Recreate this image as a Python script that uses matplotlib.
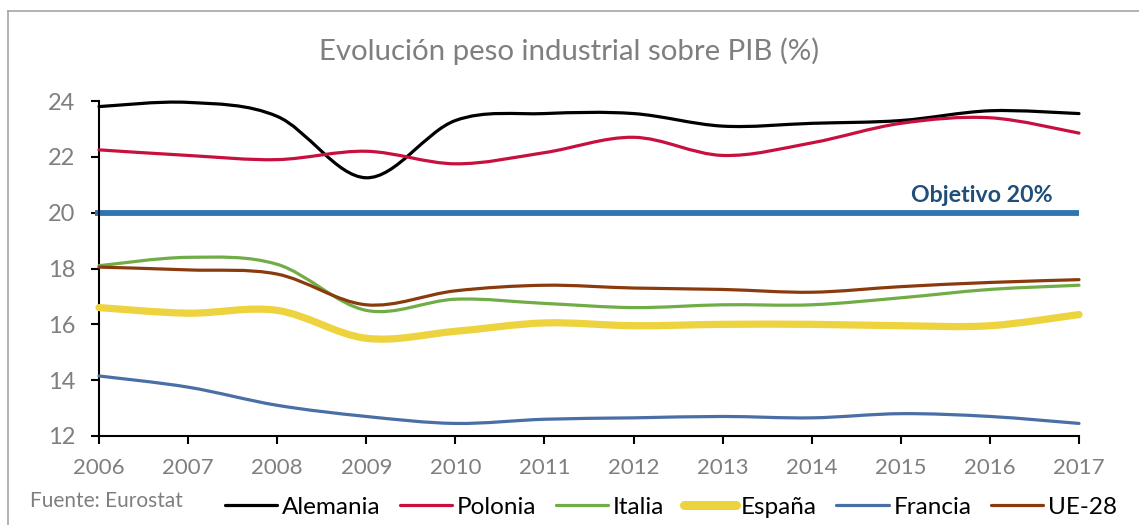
import matplotlib
matplotlib.use("Agg")
import matplotlib.pyplot as plt
from matplotlib.path import Path
from matplotlib.patches import PathPatch
from matplotlib.lines import Line2D
import numpy as np

years = [2006, 2007, 2008, 2009, 2010, 2011, 2012, 2013, 2014, 2015, 2016, 2017]
alemania = [23.8, 23.95, 23.45, 21.25, 23.3, 23.55, 23.55, 23.1, 23.2, 23.3, 23.65, 23.55]
polonia = [22.25, 22.05, 21.9, 22.2, 21.75, 22.15, 22.7, 22.05, 22.5, 23.2, 23.4, 22.85]
italia = [18.1, 18.4, 18.15, 16.5, 16.9, 16.75, 16.6, 16.7, 16.7, 16.95, 17.25, 17.4]
espana = [16.6, 16.4, 16.5, 15.5, 15.75, 16.05, 15.95, 16.0, 16.0, 15.95, 15.95, 16.35]
francia = [14.15, 13.75, 13.1, 12.7, 12.45, 12.6, 12.65, 12.7, 12.65, 12.8, 12.7, 12.45]
ue28 = [18.05, 17.95, 17.8, 16.7, 17.2, 17.4, 17.3, 17.25, 17.15, 17.35, 17.5, 17.6]
objetivo = 20

series = [
    ("Alemania", alemania, "#000000", 2.3),
    ("Polonia", polonia, "#C8103F", 2.3),
    ("Italia", italia, "#70AD47", 2.3),
    ("España", espana, "#EDD33E", 5.2),
    ("Francia", francia, "#4A6EA6", 2.3),
    ("UE-28", ue28, "#8A3B0E", 2.3),
]

FONT = "Lato"
GRAY = "#7F7F7F"

fig = plt.figure(figsize=(11.39, 5.25), dpi=100)
ax = fig.add_axes([99/1139, 1-436/525, (1079-99)/1139, (436-101)/525])


def smooth_path(xs, ys):
    pts = np.column_stack([xs, ys]).astype(float)
    n = len(pts)
    verts = [pts[0]]
    codes = [Path.MOVETO]
    for i in range(n - 1):
        p0 = pts[i - 1] if i > 0 else pts[i]
        p1 = pts[i]
        p2 = pts[i + 1]
        p3 = pts[i + 2] if i + 2 < n else pts[i + 1]
        c1 = p1 + (p2 - p0) / 6.0
        c2 = p2 - (p3 - p1) / 6.0
        verts += [c1, c2, p2]
        codes += [Path.CURVE4] * 3
    return Path(verts, codes)


# Objective line
ax.plot([2005.95, 2017], [objetivo, objetivo], color="#2E75B6", lw=4.2,
        solid_capstyle="butt", clip_on=False, zorder=2)
ax.text(2015.91, 20.24, "Objetivo 20%", color="#1F4E79", fontsize=16.7,
        fontweight="bold", family=FONT, ha="center", va="bottom")

handles = []
for name, vals, col, lw in series:
    p = PathPatch(smooth_path(years, vals), facecolor="none", edgecolor=col,
                  lw=lw, transform=ax.transData, clip_on=False, zorder=3,
                  capstyle="round", joinstyle="round")
    ax.add_patch(p)
    handles.append(Line2D([], [], color=col, lw=lw if lw < 4 else 6.5,
                          solid_capstyle="round"))

ax.set_xlim(2006, 2017)
ax.set_ylim(12, 24)
ax.set_xticks(years)
ax.set_xticklabels([str(y) for y in years])
ax.set_yticks([12, 14, 16, 18, 20, 22, 24])
for s in ["top", "right"]:
    ax.spines[s].set_visible(False)
for s in ["left", "bottom"]:
    ax.spines[s].set_linewidth(1.5)
ax.tick_params(axis="both", direction="out", length=6, width=1.5,
               labelsize=16, labelcolor=GRAY)
ax.tick_params(axis="x", pad=10)
ax.tick_params(axis="y", pad=11, labelsize=17)
for lab in ax.get_xticklabels() + ax.get_yticklabels():
    lab.set_family(FONT)

fig.text(0.5, 1 - 51/525, "Evolución peso industrial sobre PIB (%)",
         ha="center", va="center", fontsize=21.2, color=GRAY, family=FONT)
fig.text(30/1139, 1 - 501/525, "Fuente: Eurostat", ha="left", va="center",
         fontsize=15, color=GRAY, family=FONT)

leg = fig.legend(handles, [s[0] for s in series], loc="center left",
                 bbox_to_anchor=(210/1139, 1 - 507/525), ncol=6, frameon=False,
                 handlelength=2.15, handletextpad=0.2, columnspacing=0.8,
                 borderpad=0.1, prop={"family": FONT, "size": 17.5})

# chart border (top & left visible)
fig.add_artist(Line2D([7.5/1139, 7.5/1139], [0, 1 - 11/525],
                      transform=fig.transFigure, color="#A6A6A6", lw=1.2))
fig.add_artist(Line2D([7.5/1139, 1], [1 - 11/525, 1 - 11/525],
                      transform=fig.transFigure, color="#A6A6A6", lw=1.2))

fig.savefig("out.png", dpi=100)
